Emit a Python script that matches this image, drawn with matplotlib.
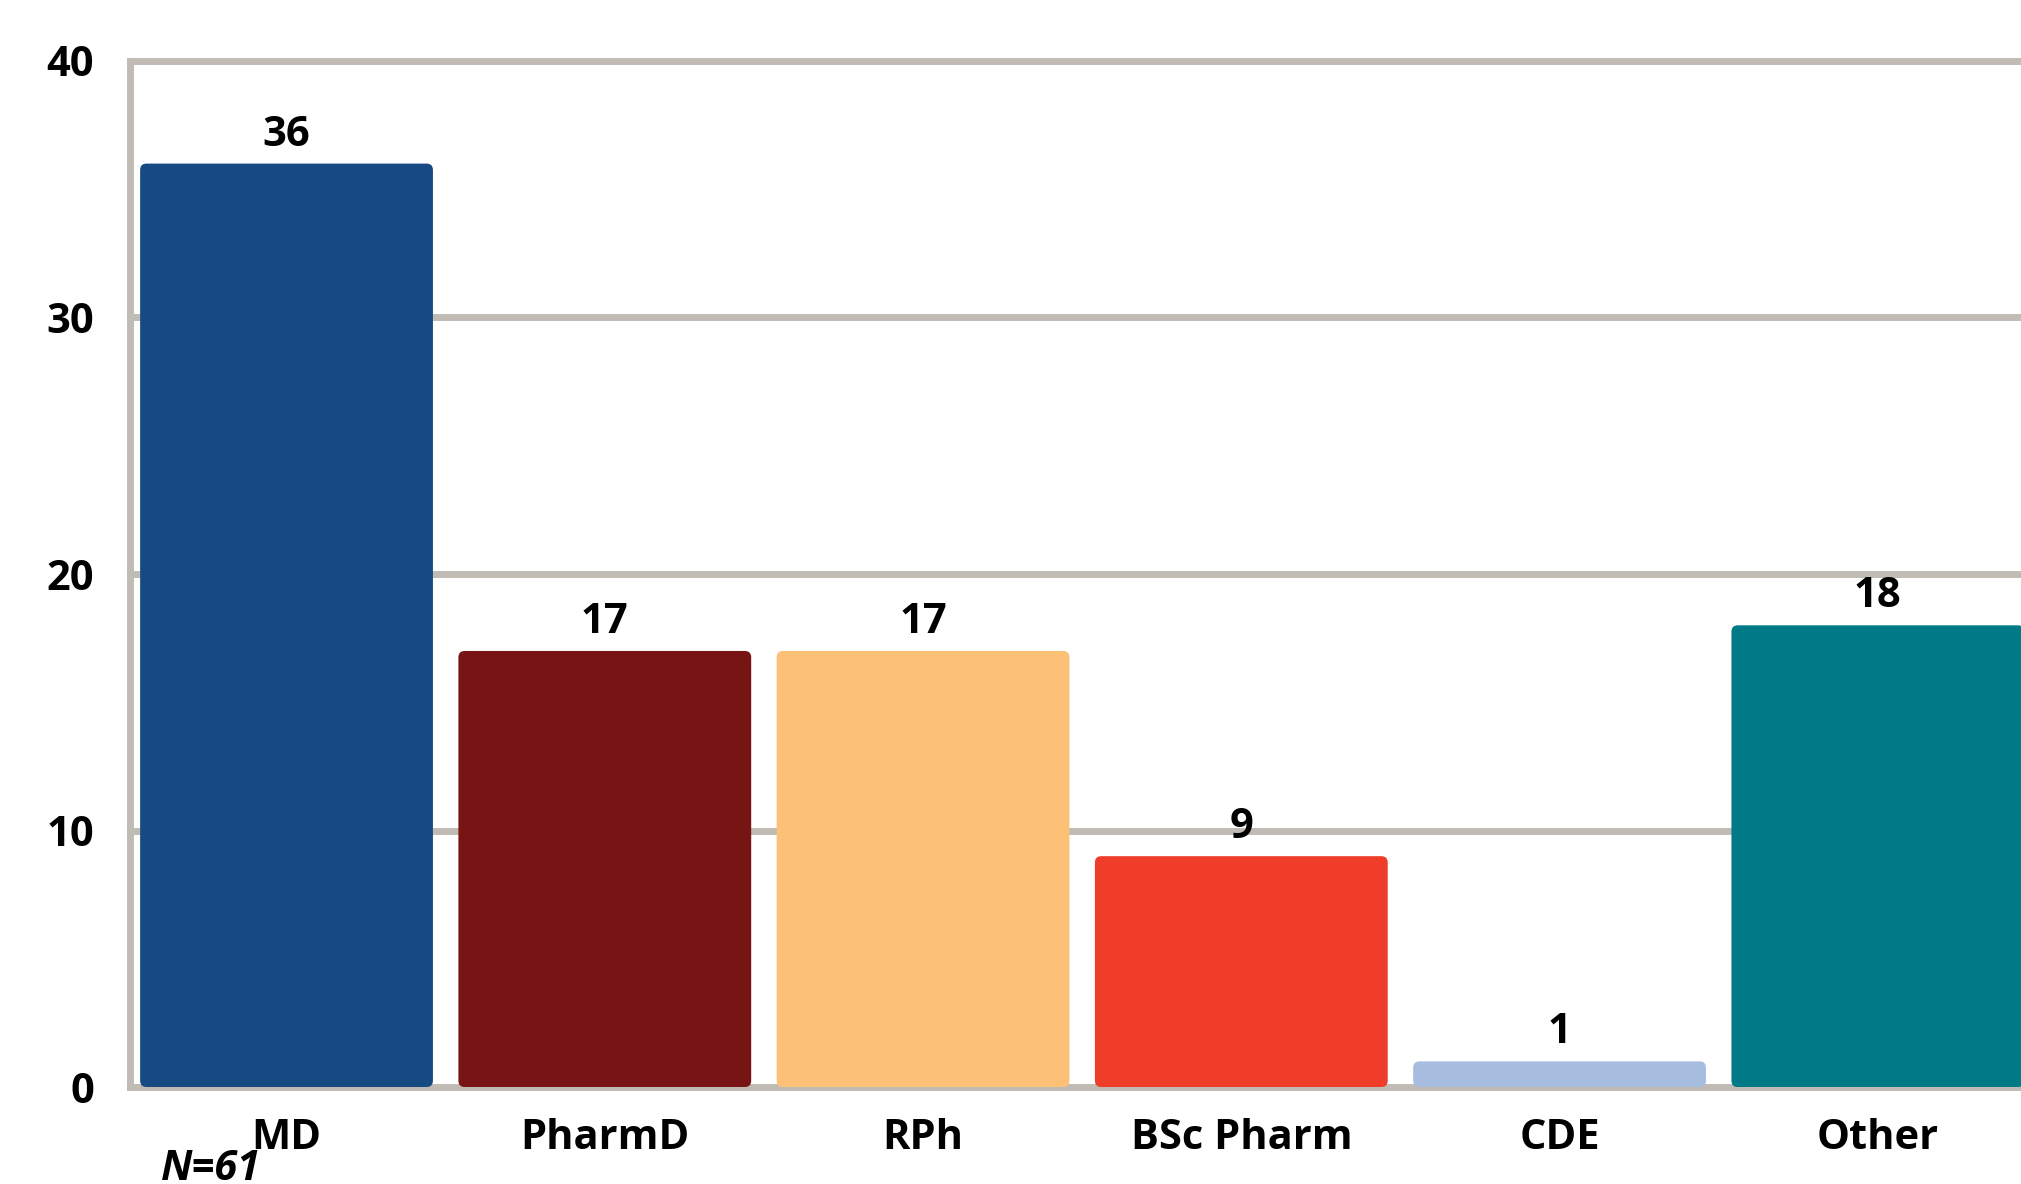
import matplotlib.pyplot as plt
from matplotlib.patches import FancyBboxPatch

categories = ['MD', 'PharmD', 'RPh', 'BSc Pharm', 'CDE', 'Other']
counts = [36, 17, 17, 9, 1, 18]
colors = ['#174a82', '#771414', '#fcc177', '#f03d2a', '#a7bde0', '#007a87']
yticks = [0, 10, 20, 30, 40]
note = 'N=61'

plt.rcParams['font.family'] = ['Open Sans', 'DejaVu Sans']
plt.rcParams['font.weight'] = 'bold'

fig = plt.figure(figsize=(20.21, 11.84), dpi=100)
ax = fig.add_axes([0.0643, 0.0819, 0.9436, 0.8666])
gridcol = '#c0bbb3'
barw = 0.92
aspect = 318 / 25.64  # px per x unit / px per y unit, keeps corners round

for i, (v, c) in enumerate(zip(counts, colors)):
    p = FancyBboxPatch((i - barw / 2, 0), barw, v,
                       boxstyle='round,pad=0,rounding_size=0.02',
                       mutation_aspect=aspect, fc=c, ec='none', zorder=3)
    ax.add_patch(p)
    ax.annotate(str(v), (i, v), xytext=(0, 13), textcoords='offset points',
                ha='center', va='baseline', fontsize=30, fontweight='bold')

ax.set_xlim(-0.492, 5.5)
ax.set_ylim(0, 40)
ax.set_xticks(range(len(categories)))
ax.set_xticklabels(categories)
ax.set_yticks(yticks)
ax.yaxis.grid(True, color=gridcol, lw=5)
ax.set_axisbelow(True)
for ln in ax.get_ygridlines():
    ln.set_clip_on(False)

for s in ['top', 'right', 'bottom']:
    ax.spines[s].set_visible(False)
ax.spines['left'].set_color(gridcol)
ax.spines['left'].set_linewidth(5)

ax.tick_params(axis='y', length=0, pad=26, labelsize=30)
ax.tick_params(axis='x', length=0, pad=22, labelsize=30)

fig.text(161 / 2021, 15 / 1184, note, style='italic', fontweight='bold',
         fontsize=30, va='center')

fig.savefig('out.png', dpi=100)
